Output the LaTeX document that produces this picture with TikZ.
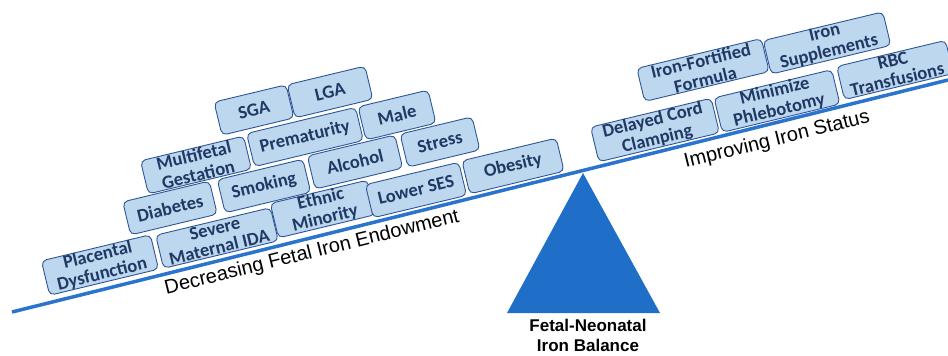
\documentclass[tikz,border=0pt]{standalone}
\usepackage{fontspec}
\setmainfont{Carlito}
\newfontfamily\arialfont{Liberation Sans}
\definecolor{beamblue}{RGB}{42,116,206}
\definecolor{pivotblue}{RGB}{31,111,200}
\definecolor{boxfill}{RGB}{189,215,238}
\definecolor{boxline}{RGB}{47,85,151}
\definecolor{boxtext}{RGB}{31,56,100}
\tikzset{
  factor/.style={draw=boxline, line width=0.9, fill=boxfill, rounded corners=5pt,
    rotate=13.5, align=center, text=boxtext, inner xsep=2pt, inner ysep=0pt,
    minimum height=34, font=\bfseries\fontsize{18.5}{19.5}\selectfont},
  sidelabel/.style={rotate=13.9, font=\arialfont\fontsize{20}{22}\selectfont}
}
\begin{document}
\begin{tikzpicture}[x=1pt,y=-1pt]
		\useasboundingbox (0,0) rectangle (948,356);
		\coordinate (Bl) at (12,312);
		\coordinate (Br) at (948,80);
		\coordinate (P) at (583,173);
		\coordinate (Pl) at (507,313);
		\coordinate (Pr) at (660,313);
		\fill [pivotblue] (P) -- (Pl) -- (Pr) -- cycle;
		\draw [beamblue, line width=3.5] (Bl) to (Br);
		\node[factor, minimum width=112] (plac) at (100,265) {Placental\\Dysfunction};
		\node[factor, minimum width=118] (ida) at (217,238) {Severe\\Maternal IDA};
		\node[factor, minimum width=100] (ethnic) at (323,209) {Ethnic\\Minority};
		\node[factor, minimum width=96] (ses) at (416,190) {Lower SES};
		\node[factor, minimum width=97] (obes) at (513,166) {Obesity};
		\node[factor, minimum width=89] (diab) at (170,208) {Diabetes};
		\node[factor, minimum width=88] (smok) at (264,186) {Smoking};
		\node[factor, minimum width=90] (alc) at (355,162) {Alcohol};
		\node[factor, minimum width=74] (stress) at (440,142) {Stress};
		\node[factor, minimum width=106] (multi) at (196,165) {Multifetal\\Gestation};
		\node[factor, minimum width=112] (prem) at (305,137) {Prematurity};
		\node[factor, minimum width=72] (male) at (397,115) {Male};
		\node[factor, minimum width=74] (sga) at (254,110) {SGA};
		\node[factor, minimum width=80] (lga) at (330,92) {LGA};
		\node[factor, minimum width=124] (dcc) at (655,130) {Delayed Cord\\Clamping};
		\node[factor, minimum width=121] (phleb) at (777,101) {Minimize\\Phlebotomy};
		\node[factor, minimum width=112] (rbc) at (895,70) {RBC\\Transfusions};
		\node[factor, minimum width=128] (iff) at (703,70) {Iron-Fortified\\Formula};
		\node[factor, minimum width=123] (supp) at (827,43) {Iron\\Supplements};
		\node[sidelabel] (decr) at (312,253) {Decreasing Fetal Iron Endowment};
		\node[sidelabel] (impr) at (777,140) {Improving Iron Status};
		\node[align=center, font=\arialfont\bfseries\fontsize{17}{20}\selectfont] (bal) at (588,335) {Fetal-Neonatal\\Iron Balance};
	\end{tikzpicture}
\end{document}
